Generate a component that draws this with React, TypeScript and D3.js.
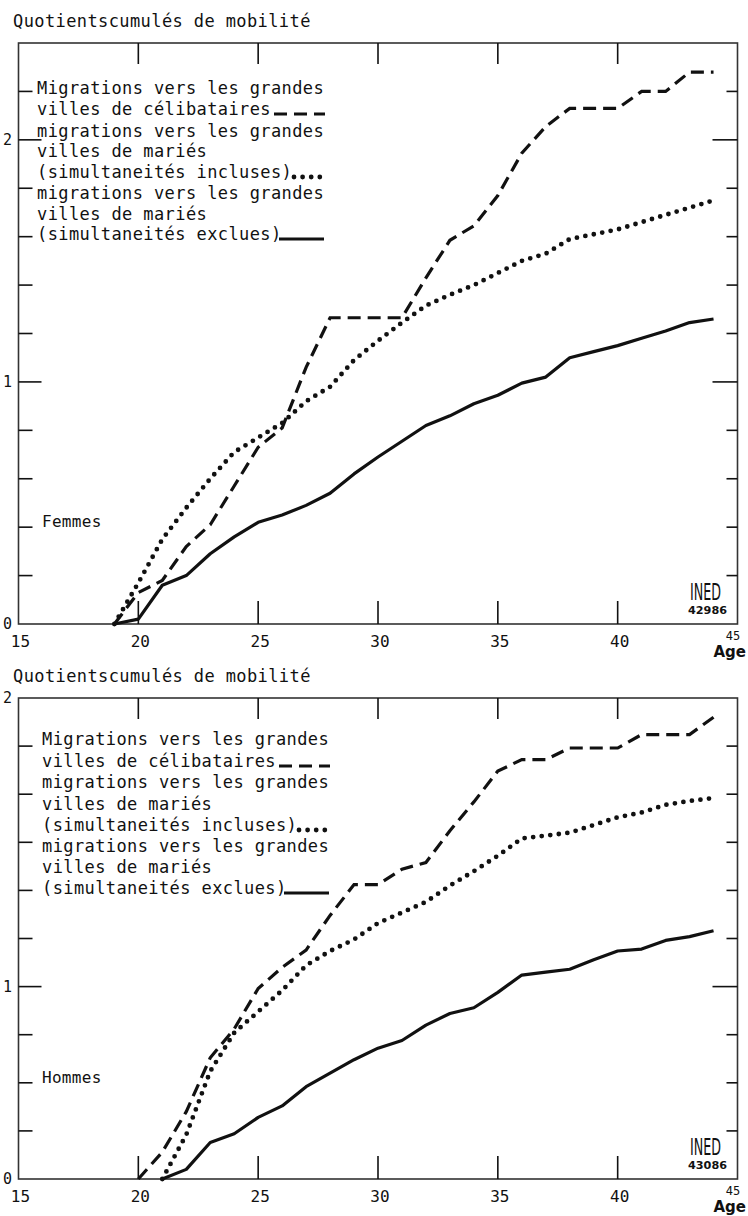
import React from "react";
import * as d3 from "d3";

// ---------- DATA ----------
const femAges = [19, 20, 21, 22, 23, 24, 25, 26, 27, 28, 29, 30, 31, 32, 33, 34, 35, 36, 37, 38, 39, 40, 41, 42, 43, 44];
const femCelib = [0, 0.13, 0.18, 0.32, 0.41, 0.57, 0.73, 0.81, 1.06, 1.265, 1.265, 1.265, 1.265, 1.43, 1.585, 1.645, 1.77, 1.945, 2.055, 2.13, 2.13, 2.13, 2.2, 2.2, 2.28, 2.28];
const femInclus = [0, 0.17, 0.35, 0.48, 0.6, 0.71, 0.77, 0.83, 0.92, 0.98, 1.09, 1.17, 1.245, 1.315, 1.36, 1.4, 1.45, 1.5, 1.53, 1.59, 1.61, 1.63, 1.66, 1.69, 1.72, 1.75];
const femExclus = [0, 0.02, 0.16, 0.2, 0.29, 0.36, 0.42, 0.45, 0.49, 0.54, 0.62, 0.69, 0.755, 0.82, 0.86, 0.91, 0.945, 0.995, 1.02, 1.1, 1.125, 1.15, 1.18, 1.21, 1.245, 1.26];

const homAgesCelib = [20, 21, 22, 23, 24, 25, 26, 27, 28, 29, 30, 31, 32, 33, 34, 35, 36, 37, 38, 39, 40, 41, 42, 43, 44];
const homCelib = [0, 0.14, 0.35, 0.63, 0.78, 0.99, 1.1, 1.19, 1.37, 1.53, 1.53, 1.61, 1.645, 1.81, 1.96, 2.12, 2.18, 2.18, 2.24, 2.24, 2.24, 2.31, 2.31, 2.31, 2.4];
const homAgesMaries = [21, 22, 23, 24, 25, 26, 27, 28, 29, 30, 31, 32, 33, 34, 35, 36, 37, 38, 39, 40, 41, 42, 43, 44];
const homInclus = [0, 0.23, 0.56, 0.76, 0.87, 0.98, 1.11, 1.185, 1.245, 1.33, 1.385, 1.44, 1.525, 1.6, 1.68, 1.77, 1.785, 1.8, 1.84, 1.88, 1.905, 1.945, 1.965, 1.98];
const homExclus = [0, 0.05, 0.19, 0.235, 0.32, 0.38, 0.48, 0.55, 0.62, 0.68, 0.72, 0.8, 0.86, 0.89, 0.97, 1.06, 1.075, 1.09, 1.14, 1.185, 1.195, 1.24, 1.26, 1.29];

const xTickValues = [20, 25, 30, 35, 40];
const xTickLabels = ["15", "20", "25", "30", "35", "40"];
const xLabelAges = [15, 20, 25, 30, 35, 40];

const femYTicks = [0.2, 0.4, 0.6, 0.8, 1, 1.2, 1.4, 1.6, 1.8, 2, 2.2];
const femYMajor = [1, 2];
const femYLabels: [number, string][] = [[0, "0"], [1, "1"], [2, "2"]];

const homYTicks = [0.25, 0.5, 0.75, 1, 1.25, 1.5, 1.75, 2, 2.25];
const homYMajor = [1];
const homYLabels: [number, string][] = [[0, "0"], [1, "1"], [2.5, "2"]];

const legendLines = [
  "Migrations vers les grandes",
  "villes de célibataires",
  "migrations vers les grandes",
  "villes de mariés",
  "(simultaneités incluses)",
  "migrations vers les grandes",
  "villes de mariés",
  "(simultaneités exclues)",
];
const titleText = "Quotientscumulés de mobilité";

const MONO = "'DejaVu Sans Mono', monospace";
const SANS = "'DejaVu Sans', sans-serif";
const INK = "#111";

const x = d3.scaleLinear().domain([15, 45]).range([18.5, 737.5]);

type Panel = {
  top: number;
  bottom: number;
  yMax: number;
  ticks: number[];
  major: number[];
  labels: [number, string][];
  series: { ages: number[]; vals: number[]; style: string }[];
  title: string;
  titleY: number;
  legendX: number;
  legendY: number[];
  sex: string;
  sexY: number;
  code: string;
};

const panels: Panel[] = [
  {
    top: 43, bottom: 624, yMax: 2.4,
    ticks: femYTicks, major: femYMajor, labels: femYLabels,
    series: [
      { ages: femAges, vals: femCelib, style: "dash" },
      { ages: femAges, vals: femInclus, style: "dot" },
      { ages: femAges, vals: femExclus, style: "solid" },
    ],
    title: titleText, titleY: 27,
    legendX: 37, legendY: [94, 115, 137, 157, 178, 199, 220, 240],
    sex: "Femmes", sexY: 527, code: "42986",
  },
  {
    top: 698, bottom: 1179, yMax: 2.5,
    ticks: homYTicks, major: homYMajor, labels: homYLabels,
    series: [
      { ages: homAgesCelib, vals: homCelib, style: "dash" },
      { ages: homAgesMaries, vals: homInclus, style: "dot" },
      { ages: homAgesMaries, vals: homExclus, style: "solid" },
    ],
    title: titleText, titleY: 682,
    legendX: 42, legendY: [745, 767, 788, 810, 831, 852, 873, 894],
    sex: "Hommes", sexY: 1083, code: "43086",
  },
];

function styleProps(style: string) {
  if (style === "dash") return { strokeWidth: 3.2, strokeDasharray: "13 7" };
  if (style === "dot") return { strokeWidth: 4.8, strokeDasharray: "0 8.6", strokeLinecap: "round" as const };
  return { strokeWidth: 3.2, strokeLinejoin: "round" as const };
}

function PanelView({ p }: { p: Panel }) {
  const y = d3.scaleLinear().domain([0, p.yMax]).range([p.bottom, p.top]);
  const left = x(15);
  const right = x(45);
  const line = d3
    .line<[number, number]>()
    .x((d) => x(d[0]))
    .y((d) => y(d[1]));
  const lx = p.legendX;
  return (
    <g>
      <text x={13} y={p.titleY} fontFamily={MONO} fontSize={17} letterSpacing={0.4} fill={INK}>
        {p.title}
      </text>
      {/* frame */}
      <rect x={left} y={p.top} width={right - left} height={p.bottom - p.top} fill="none" stroke="#333" strokeWidth={1.6} />
      {/* x ticks top & bottom */}
      {xTickValues.map((v) => (
        <g key={"xt" + v}>
          <line x1={x(v)} x2={x(v)} y1={p.top} y2={p.top + 21} stroke={INK} strokeWidth={1.6} />
          <line x1={x(v)} x2={x(v)} y1={p.bottom} y2={p.bottom - 23} stroke={INK} strokeWidth={1.6} />
        </g>
      ))}
      {/* y ticks left & right */}
      {p.ticks.map((v) => {
        const big = p.major.includes(v);
        return (
          <g key={"yt" + v}>
            <line x1={left} x2={left + (big ? 23 : 14)} y1={y(v)} y2={y(v)} stroke={INK} strokeWidth={1.6} />
            <line x1={right} x2={right - (big ? 25 : 11)} y1={y(v)} y2={y(v)} stroke={INK} strokeWidth={1.6} />
          </g>
        );
      })}
      {/* y labels */}
      {p.labels.map(([v, s]) => (
        <text key={"yl" + v} x={12} y={y(v) + 5} textAnchor="end" fontFamily={MONO} fontSize={15} fill={INK}>
          {s}
        </text>
      ))}
      {/* x labels */}
      {xLabelAges.map((a, i) => (
        <text key={"xl" + a} x={x(a) + 2} y={p.bottom + 23} textAnchor="middle" fontFamily={MONO} fontSize={16} fill={INK}>
          {xTickLabels[i]}
        </text>
      ))}
      <text x={733} y={p.bottom + 16} textAnchor="middle" fontFamily={MONO} fontSize={12} fill={INK}>
        45
      </text>
      <text x={746} y={p.bottom + 33} textAnchor="end" fontFamily={SANS} fontWeight="bold" fontSize={15} fill={INK}>
        Age
      </text>
      {/* series */}
      {p.series.map((s, i) => (
        <path
          key={"s" + i}
          d={line(s.ages.map((a, j) => [a, s.vals[j]] as [number, number])) || ""}
          fill="none"
          stroke={INK}
          {...styleProps(s.style)}
        />
      ))}
      {/* legend */}
      {legendLines.map((t, i) => (
        <text key={"lg" + i} x={lx} y={p.legendY[i]} fontFamily={MONO} fontSize={17} letterSpacing={0.4} fill={INK}>
          {t}
        </text>
      ))}
      <line x1={lx + 237} x2={lx + 288} y1={p.legendY[1] - 1} y2={p.legendY[1] - 1} stroke={INK} {...styleProps("dash")} />
      <line x1={lx + 257} x2={lx + 290} y1={p.legendY[4] - 1} y2={p.legendY[4] - 1} stroke={INK} {...styleProps("dot")} />
      <line x1={lx + 242} x2={lx + 287} y1={p.legendY[7] - 1} y2={p.legendY[7] - 1} stroke={INK} {...styleProps("solid")} />
      {/* sex label */}
      <text x={42} y={p.sexY} fontFamily={MONO} fontSize={16} letterSpacing={0.3} fill={INK}>
        {p.sex}
      </text>
      {/* INED mark */}
      <text
        x={690}
        y={p.bottom - 24}
        fontFamily="'Liberation Sans Narrow', 'DejaVu Sans Condensed', sans-serif"
        fontSize={23}
        textLength={31}
        lengthAdjust="spacingAndGlyphs"
        fill={INK}
        fontWeight={300}
      >
        INED
      </text>
      <text
        x={688}
        y={p.bottom - 10}
        fontFamily={SANS}
        fontWeight="bold"
        fontSize={10}
        textLength={39}
        lengthAdjust="spacingAndGlyphs"
        fill={INK}
      >
        {p.code}
      </text>
    </g>
  );
}

export default function App() {
  return (
    <svg
      width={748}
      height={1216}
      viewBox="0 0 748 1216"
      style={{ position: "absolute", left: 0, top: 0, background: "#fff" }}
    >
      <rect x={0} y={0} width={748} height={1216} fill="#fff" />
      {panels.map((p, i) => (
        <PanelView key={i} p={p} />
      ))}
    </svg>
  );
}
